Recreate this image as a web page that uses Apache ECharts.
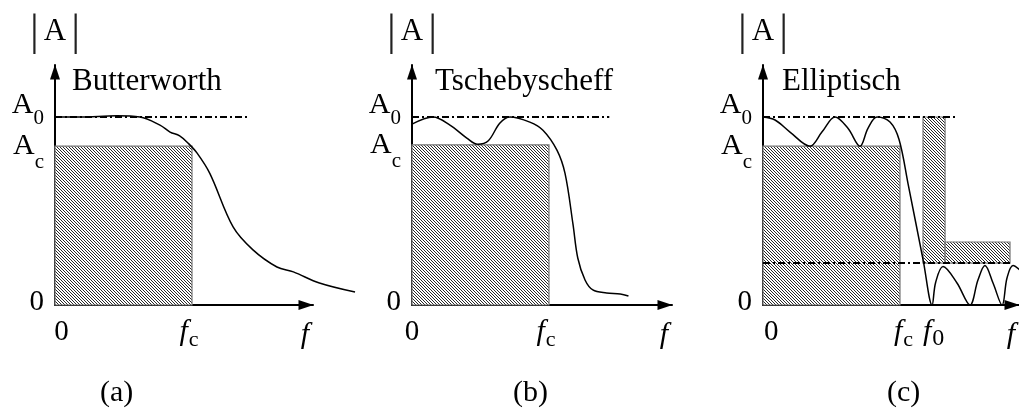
<!DOCTYPE html>
<html>
<head>
<meta charset="utf-8">
<script src="https://cdn.jsdelivr.net/npm/echarts@6/dist/echarts.min.js"></script>
<style>
  html, body { margin: 0; padding: 0; background: #fff; }
  #chart { width: 1019px; height: 410px; }
</style>
</head>
<body>
<div id="chart"></div>
<script>
// Normalised levels: frequency in units of f_c, amplitude in units of A_0
const panelNames = ['Butterworth', 'Tschebyscheff', 'Elliptisch'];
const panelTags = ['(a)', '(b)', '(c)'];
const passLevels = [0.845, 0.852, 0.845];     // A_c level drawn in each panel
const A0 = 1.0;
const stopLevel = 0.223;                       // stop-band limit (panel c)
const stopRectTop = 0.335;
const f0 = 1.168;
const yTickLabels = ['0', 'A_c'];
const yTopLabel = 'A_0';
const xTickLabels = ['0', 'f_c', 'f_0'];
const dashEnds = [1.416, 1.44, 1.42];

const butterworth = [
  [0, 1.0], [0.18, 1.0], [0.45, 1.006], [0.62, 1.0], [0.766, 0.957],
  [0.84, 0.92], [0.91, 0.9], [0.97, 0.862], [1.036, 0.809], [1.13, 0.70],
  [1.30, 0.415], [1.445, 0.293], [1.62, 0.202], [1.74, 0.176], [1.93, 0.117],
  [2.19, 0.069]
];
const tschebyscheff = [
  [0, 0.962], [0.153, 1.0], [0.277, 0.957], [0.40, 0.888], [0.48, 0.855],
  [0.555, 0.872], [0.642, 0.968], [0.715, 1.0], [0.86, 0.973], [0.956, 0.93],
  [1.058, 0.824], [1.117, 0.70], [1.175, 0.43], [1.21, 0.25], [1.263, 0.133],
  [1.32, 0.08], [1.42, 0.064], [1.52, 0.059], [1.58, 0.048]
];
const elliptic = [
  [0, 1.0], [0.088, 0.984], [0.197, 0.92], [0.343, 0.845], [0.43, 0.92],
  [0.526, 1.0], [0.62, 0.94], [0.708, 0.845], [0.766, 0.94], [0.832, 1.0],
  [0.927, 0.973], [0.993, 0.88], [1.06, 0.64], [1.17, 0.235], [1.234, 0],
  [1.26, 0.12], [1.314, 0.205], [1.416, 0.117], [1.511, 0], [1.569, 0.133],
  [1.62, 0.21], [1.679, 0.117], [1.745, 0], [1.781, 0.144], [1.825, 0.21],
  [1.876, 0.186]
];
// [x0, x1, y0, y1] tolerance boxes
const boxesA = [[0, 1, 0, passLevels[0]]];
const boxesB = [[0, 1, 0, passLevels[1]]];
const boxesC = [[0, 1, 0, passLevels[2]], [f0, 1.329, stopLevel, A0], [1.329, 1.803, stopLevel, stopRectTop]];

const curves = [butterworth, tschebyscheff, elliptic];
const boxes = [boxesA, boxesB, boxesC];

const SERIF = '"Liberation Serif", "Times New Roman", serif';
const INK = '#000';

function hatchPattern() {
  const n = 6;
  const c = document.createElement('canvas');
  c.width = n; c.height = n;
  const ctx = c.getContext('2d');
  const img = ctx.createImageData(n, n);
  for (let y = 0; y < n; y++) {
    for (let x = 0; x < n; x++) {
      const k = (((x - y) % 3) + 3) % 3;
      const v = k === 0 ? 40 : 255;
      const i = (y * n + x) * 4;
      img.data[i] = v; img.data[i + 1] = v; img.data[i + 2] = v; img.data[i + 3] = 255;
    }
  }
  ctx.putImageData(img, 0, 0);
  return { image: c, repeat: 'repeat' };
}
const hatch = hatchPattern();

const UNIT_X = 137, UNIT_Y = 188;
const axisGrids = [
  { left: 55, top: 65, width: 258, height: 240 },
  { left: 412, top: 65, width: 260, height: 240 },
  { left: 763, top: 65, width: 256, height: 240 }
];
// companion grids on the same scale, so a response curve may run past the arrow tip
const curveSpans = [2.3, 2.3, 256 / UNIT_X];
const curveGrids = axisGrids.map((g, p) => ({ left: g.left, top: g.top, height: g.height, width: curveSpans[p] * UNIT_X }));
const arrow = 'path://M0,0 L10,30 L-10,30 Z';

const T = (size, extra) => Object.assign({ fontFamily: SERIF, fontSize: size, color: INK }, extra || {});
const rich = {
  // y labels
  yn: T(29, { lineHeight: 30, verticalAlign: 'bottom', padding: [0, 0, 3.5, 0] }),
  aC: T(30, { lineHeight: 30, verticalAlign: 'bottom' }),
  sC: T(21, { lineHeight: 30, verticalAlign: 'top', padding: [21, 0, 0, 0] }),
  a0: T(30, { lineHeight: 30, verticalAlign: 'bottom', padding: [0, 0, 12, 0] }),
  s0: T(21, { lineHeight: 30, verticalAlign: 'bottom', padding: [0, 0, 3, 0] }),
  // x labels
  n:  T(29, { lineHeight: 30, verticalAlign: 'top', padding: [0.5, 0, 0, 0] }),
  nz: T(29, { lineHeight: 30, verticalAlign: 'top', padding: [0.5, 0, 0, 13] }),
  f:  T(30, { fontStyle: 'italic', lineHeight: 30, verticalAlign: 'top' }),
  fc: T(22, { lineHeight: 30, verticalAlign: 'top', padding: [12, 6, 0, 1] }),
  // left-packed variants for the crowded axis of panel c
  Ln: T(29, { lineHeight: 30, verticalAlign: 'top', align: 'left', padding: [0.5, 0, 0, 7] }),
  Lf: T(30, { fontStyle: 'italic', lineHeight: 30, verticalAlign: 'top', align: 'left' }),
  Lfp: T(30, { fontStyle: 'italic', lineHeight: 30, verticalAlign: 'top', align: 'left', padding: [0, 0, 0, 6] }),
  Lfc: T(22, { lineHeight: 30, verticalAlign: 'top', align: 'left', padding: [12, 0, 0, 1] }),
  Lf0: T(24, { lineHeight: 30, verticalAlign: 'top', align: 'left', padding: [9.5, 0, 0, 1] }),
  // |A|
  bar: T(44, { color: '#222', lineHeight: 44, verticalAlign: 'bottom' }),
  A:  T(31, { lineHeight: 31, verticalAlign: 'bottom', padding: [0, 5, 8, 5] })
};

function yLabel(text) {
  if (text === '0') return '{yn|0}';
  const sub = text.split('_')[1];
  return sub === '0' ? '{a0|A}{s0|0}' : '{aC|A}{sC|' + sub + '}';
}
function xLabel(text, p) {
  const sub = text.split('_')[1];
  if (p === 2) {
    if (text === '0') return '{Ln|0}';
    return sub === '0' ? '{Lfp|f}{Lf0|0}' : '{Lf|f}{Lfc|' + sub + '}';
  }
  if (text === '0') return p === 1 ? '{n|0}' : '{nz|0}';
  return '{f|f}{fc|' + sub + '}';
}

const xAxes = [], yAxes = [], series = [];
const baseLine = { show: true, lineStyle: { color: INK, width: 2 }, symbol: ['none', arrow], symbolSize: [11, 15], symbolOffset: [0, -7] };
axisGrids.forEach((g, p) => {
  const xTickVals = p === 2 ? [0, 1, f0] : [0, 1];
  const yTickVals = [0, passLevels[p]];
  const xLabelOpt = {
    customValues: xTickVals, margin: 12, interval: 0, hideOverlap: false,
    showMinLabel: true, showMaxLabel: true, verticalAlign: 'top',
    formatter: v => xLabel(xTickLabels[xTickVals.indexOf(v)], p), rich: rich
  };
  if (p === 2) { xLabelOpt.width = 12; xLabelOpt.overflow = 'none'; }
  xAxes.push({
    type: 'value', gridIndex: p, min: 0, max: g.width / UNIT_X,
    axisLine: baseLine, axisTick: { show: false }, splitLine: { show: false },
    axisLabel: xLabelOpt,
    name: 'f', nameLocation: 'end', nameGap: -8,
    nameTextStyle: { fontFamily: SERIF, fontSize: 30, fontStyle: 'italic', color: INK, align: 'center', verticalAlign: 'top', padding: [15, 0, 0, 0] }
  });
  yAxes.push({
    type: 'value', gridIndex: p, min: 0, max: g.height / UNIT_Y, position: 'left',
    axisLine: baseLine, axisTick: { show: false }, splitLine: { show: false },
    axisLabel: {
      customValues: yTickVals, margin: 11, interval: 0, hideOverlap: false,
      showMinLabel: true, showMaxLabel: true,
      formatter: v => yLabel(yTickLabels[yTickVals.indexOf(v)]), rich: rich
    },
    name: '{bar||}{A|A}{bar||}', nameLocation: 'end', nameGap: 10,
    nameTextStyle: { rich: rich, align: 'center' }
  });
});
curveGrids.forEach((g, p) => {
  xAxes.push({ type: 'value', gridIndex: 3 + p, min: 0, max: curveSpans[p], show: false });
  yAxes.push({ type: 'value', gridIndex: 3 + p, min: 0, max: g.height / UNIT_Y, show: false });
});
// the A_0 reference level gets its own label axis on each panel
axisGrids.forEach((g, p) => {
  yAxes.push({
    type: 'value', gridIndex: p, min: 0, max: g.height / UNIT_Y, position: 'left',
    axisLine: { show: false }, axisTick: { show: false }, splitLine: { show: false },
    axisLabel: {
      customValues: [A0], margin: 11, interval: 0, hideOverlap: false,
      showMinLabel: true, showMaxLabel: true,
      formatter: () => yLabel(yTopLabel), rich: rich
    }
  });
});

axisGrids.forEach((g, p) => {
  series.push({
    type: 'custom', xAxisIndex: p, yAxisIndex: p, z: 1,
    encode: { x: [0, 1], y: [2, 3] },
    data: boxes[p],
    renderItem: (params, api) => {
      const tl = api.coord([api.value(0), api.value(3)]);
      const br = api.coord([api.value(1), api.value(2)]);
      return {
        type: 'rect',
        shape: { x: tl[0], y: tl[1], width: br[0] - tl[0], height: br[1] - tl[1] },
        style: { fill: hatch, stroke: '#777', lineWidth: 1.2 }
      };
    }
  });
  const dashSets = [[[0, A0], [dashEnds[p], A0]]];
  if (p === 2) dashSets.push([[0, stopLevel], [1.81, stopLevel]]);
  dashSets.forEach(d => series.push({
    type: 'line', xAxisIndex: p, yAxisIndex: p, z: 3, data: d, symbol: 'none', silent: true,
    lineStyle: { color: INK, width: 2, type: [7, 3, 2, 3] }
  }));
  series.push({
    type: 'line', xAxisIndex: 3 + p, yAxisIndex: 3 + p, z: 4, data: curves[p], symbol: 'none',
    smooth: 0.35, silent: true,
    lineStyle: { color: INK, width: 1.5 }
  });
});

const titles = [];
const nameLefts = [72, 435, 782];
const tagLefts = [100, 513, 887];
panelNames.forEach((t, i) => {
  titles.push({ text: t, left: nameLefts[i], top: 66, padding: 0, textStyle: { fontFamily: SERIF, fontSize: 31, fontWeight: 'normal', color: INK } });
  titles.push({ text: panelTags[i], left: tagLefts[i], top: 378, padding: 0, textStyle: { fontFamily: SERIF, fontSize: 30, fontWeight: 'normal', color: INK } });
});

const chart = echarts.init(document.getElementById('chart'), null, { renderer: 'canvas' });
chart.setOption({
  backgroundColor: '#fff',
  animation: false,
  title: titles,
  grid: axisGrids.concat(curveGrids),
  xAxis: xAxes,
  yAxis: yAxes,
  series: series
});
</script>
</body>
</html>
